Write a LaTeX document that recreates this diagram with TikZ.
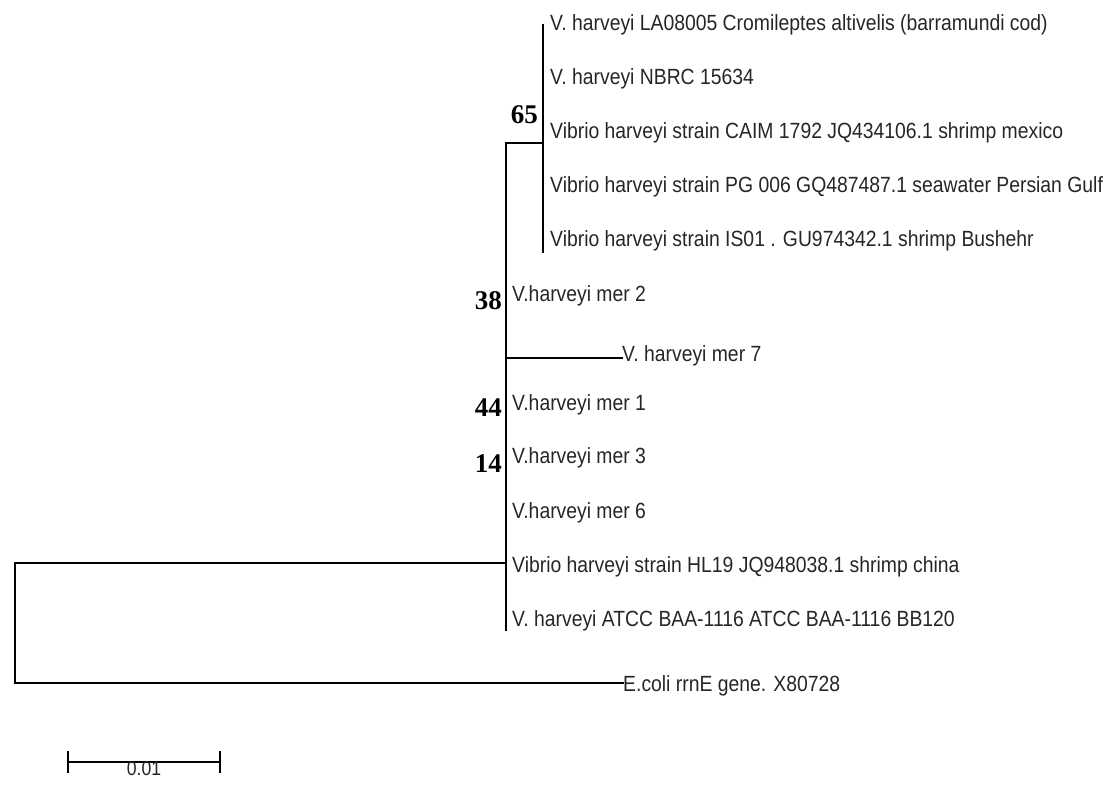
\documentclass[tikz,border=0pt]{standalone}
\usepackage{fontspec}
\setmainfont{Liberation Sans}[FakeStretch=0.88]
\newfontfamily\bootfont{Liberation Serif}
\usetikzlibrary{positioning}

\begin{document}
\begin{tikzpicture}[x=1pt, y=-1pt,
    leaf/.style={anchor=base west, inner sep=0pt, text=black!85, font=\fontsize{22}{22}\selectfont},
    boot/.style={anchor=base east, inner sep=0pt, font=\bootfont\bfseries\fontsize{27}{27}\selectfont},
    branch/.style={draw, line width=1.8pt, line cap=rect}]

    \useasboundingbox (0,0) rectangle (1114,791);

    % clade 65
    \node [leaf] (la08005) at (550,31) {V. harveyi LA08005 Cromileptes altivelis (barramundi cod)};
    \node [leaf] (nbrc) at (550,85) {V. harveyi NBRC 15634};
    \node [leaf] (caim) at (550,139) {Vibrio harveyi strain CAIM 1792 JQ434106.1 shrimp mexico};
    \node [leaf] (pg006) at (550,193) {Vibrio harveyi strain PG 006 GQ487487.1 seawater Persian Gulf};
    \node [leaf] (is01) at (550,247) {Vibrio harveyi strain IS01 . GU974342.1 shrimp Bushehr};

    % V. harveyi isolates
    \node [leaf] (mer2) at (512,302) {V.harveyi mer 2};
    \node [leaf] (mer7) at (622,362) {V. harveyi mer 7};
    \node [leaf] (mer1) at (512,410) {V.harveyi mer 1};
    \node [leaf] (mer3) at (512,464) {V.harveyi mer 3};
    \node [leaf] (mer6) at (512,518) {V.harveyi mer 6};
    \node [leaf] (hl19) at (512,572) {Vibrio harveyi strain HL19 JQ948038.1 shrimp china};
    \node [leaf] (atcc) at (512,626) {V. harveyi ATCC BAA-1116 ATCC BAA-1116 BB120};

    % outgroup
    \node [leaf] (ecoli) at (623,691) {E.coli rrnE gene. X80728};

    % bootstrap values
    \node [boot] (b65) at (538,124) {65};
    \node [boot] (b38) at (502,310) {38};
    \node [boot] (b44) at (502,417) {44};
    \node [boot] (b14) at (502,472) {14};

    % branch points
    \coordinate (ctop) at (543,25);
    \coordinate (cbot) at (543,252);
    \coordinate (n65) at (543,143);
    \coordinate (main) at (506,143);
    \coordinate (mainbot) at (506,630);
    \coordinate (n7) at (506,358);
    \coordinate (ingroup) at (506,563);
    \coordinate (root) at (15,563);
    \coordinate (outroot) at (15,683);

    \path [branch] (ctop) -- (cbot);
    \path [branch] (main) -- (n65);
    \path [branch] (main) -- (mainbot);
    \path [branch] (n7) -- (mer7.west |- n7);
    \path [branch] (ingroup) -- (root) -- (outroot) -- (ecoli.west |- outroot);

    % scale bar
    \coordinate (sbl) at (68,762);
    \coordinate (sbr) at (220,762);
    \path [branch] (sbl) -- (sbr);
    \path [branch] ([yshift=-10pt]sbl) -- ([yshift=10pt]sbl);
    \path [branch] ([yshift=-10pt]sbr) -- ([yshift=10pt]sbr);
    \node [anchor=north, inner sep=0pt, text=black!85, font=\fontsize{20}{20}\selectfont] (scale) at (144,761) {0.01};
\end{tikzpicture}
\end{document}
